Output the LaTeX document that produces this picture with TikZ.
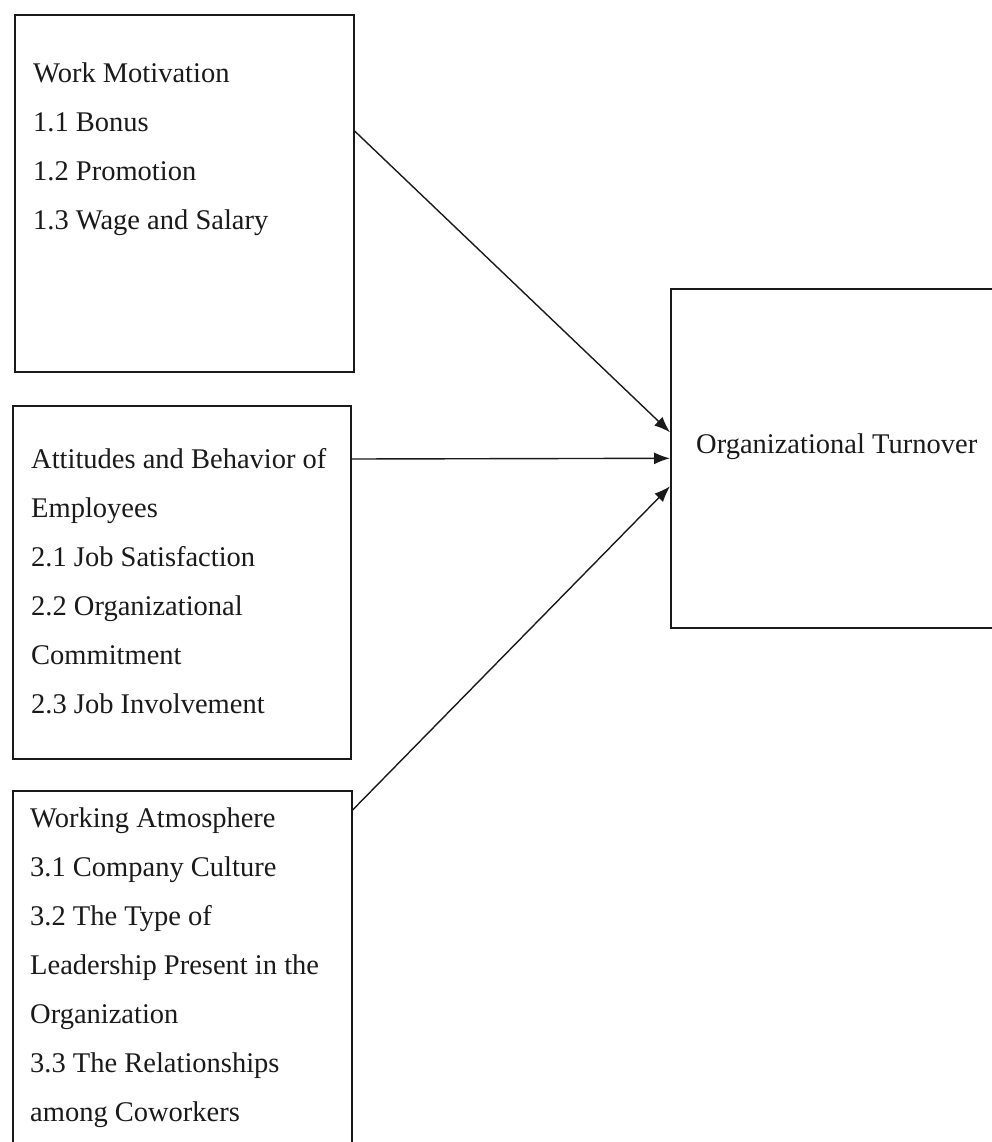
\documentclass[tikz,border=0pt]{standalone}
\usepackage{fontspec}
\setmainfont{Liberation Serif}
\usepackage{tikz}
\usetikzlibrary{arrows.meta,positioning}
\definecolor{Primary}{HTML}{1A1A1A}
\definecolor{Secondary}{HTML}{FFFFFF}
\tikzset{
style1/.style= {rectangle, draw=Primary, line width=1.6pt, fill=Secondary, anchor=north west, inner sep=0pt},
style2/.style= {align=left, anchor=north west, inner sep=0pt, text=Primary, font=\fontsize{28.5}{49}\selectfont},
style3/.style= {-{Latex[length=16pt,width=12pt]}, line width=1.4pt, draw=Primary}
}

\begin{document}
\begin{tikzpicture}[x=1pt, y=-1pt]
    \useasboundingbox (0,0) rectangle (992,1142);
    \clip (0,0) rectangle (992,1142);

    % boxes
    \node[style1,minimum width=339pt,minimum height=357pt] (motiv) at (14,14) {};
    \node[style1,minimum width=338pt,minimum height=353pt] (attit) at (12,405) {};
    \node[style1,minimum width=339pt,minimum height=400pt] (atmos) at (12,790) {};
    \node[style1,minimum width=340pt,minimum height=339pt] (turn) at (670,288) {};

    % texts
    \node[style2] (motivtxt) at (33,62.5) {Work Motivation\\1.1 Bonus\\1.2 Promotion\\1.3 Wage and Salary};
    \node[style2] (attittxt) at (31,448.5) {Attitudes and Behavior of\\Employees\\2.1 Job Satisfaction\\2.2 Organizational\\Commitment\\2.3 Job Involvement};
    \node[style2] (atmostxt) at (30,807.5) {Working Atmosphere\\3.1 Company Culture\\3.2 The Type of\\Leadership Present in the\\Organization\\3.3 The Relationships\\among Coworkers};
    \node[style2,anchor=base west] (turntxt) at (696,453) {Organizational Turnover};

    % arrows
    \draw[style3] ([yshift=-117pt]motiv.north east) -- ([yshift=26pt]turn.west);
    \draw[style3] ([yshift=-54pt]attit.north east) -- (turn.west);
    \draw[style3] ([yshift=-20pt]atmos.north east) -- ([yshift=-28pt]turn.west);
\end{tikzpicture}
\end{document}
